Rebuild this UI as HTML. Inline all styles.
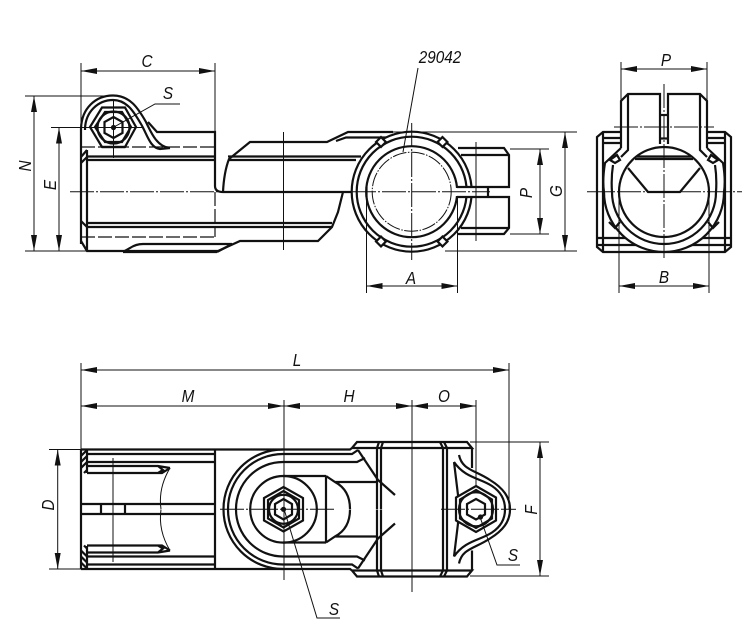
<!DOCTYPE html>
<html><head><meta charset="utf-8"><style>
html,body{margin:0;padding:0;background:#fff}
svg{display:block}
text{font-family:"Liberation Sans",sans-serif;font-style:italic;font-size:18px;fill:#111;text-anchor:middle}
.k{fill:none;stroke:#111;stroke-width:2.2}
.w{fill:#fff;stroke:#111;stroke-width:2.2}
.t{fill:none;stroke:#111;stroke-width:1}
.c{fill:none;stroke:#111;stroke-width:1;stroke-dasharray:24 2 2 2}
.d{fill:none;stroke:#111;stroke-width:1.2;stroke-dasharray:14 3}
.a{fill:#111;stroke:none}
</style></head><body>
<svg width="750" height="624" viewBox="0 0 750 624" xmlns="http://www.w3.org/2000/svg">
<defs>
<path id="ar" class="a" d="M0 0L16 -3L16 3Z"/>
<g id="fh">
<path class="k" d="M81 449.500H350L352 448L357 442H467L472 448H352"/>
<path class="k" d="M87 454H215M87 462H215M87 473H162L170 468M87 466H158L170 468M158 466L163 470L158 473"/>
<path class="t" stroke-width="1.500" d="M170 468Q158 488 161 509"/>
<path class="k" d="M81 456L87 450M81 462L87 456M81 468L87 462M84 473L87 470" stroke-width="1.600"/>
<path class="k" d="M283 449.500A59.500 59.500 0 0 0 223.500 509M283 454A55 55 0 0 0 228 509M283 462A47 47 0 0 0 236 509"/>
<path class="k" d="M283 454H352L358 450M283 462H357L365 458M326 476H283M326 476V509M326 476L335 482H378M335 482Q350 490 350 509"/>
<path class="k" d="M358 450L378 480L395 495"/>
<path class="k" d="M379 442L377 448V509M383 442L381 448V509M440 442L443 448V509M444 442L447 448V509M472 448V468"/>
<path class="k" d="M459 455C462 470 475 470 490 480C503 488 510 497 510 509M454 462L458 495V509M454 462C465 478 480 478 492 486C501 492 505 500 505 509"/>
</g>
</defs>

<!-- ===== TOP-LEFT VIEW ===== -->
<path class="t" d="M81 63V130M215 63V133"/>
<path class="t" d="M81 71H215"/><use href="#ar" x="81" y="71"/><use href="#ar" transform="translate(215 71) scale(-1 1)"/>
<path class="t" d="M25 96H108M51 127.500H100M25 251H86"/>
<path class="t" d="M34 96V251M59 127.500V251"/>
<use href="#ar" transform="translate(34 96) rotate(90)"/><use href="#ar" transform="translate(34 251) rotate(-90)"/>
<use href="#ar" transform="translate(59 127.500) rotate(90)"/><use href="#ar" transform="translate(59 251) rotate(-90)"/>

<path class="k" d="M81 244V130C81 108 96 95.500 113 95.500C130 95.500 138 108 146 122C152 135 158 147 170 148"/>
<path class="k" d="M85 130C85 112 98 100 113 100C127 100 134 112 141 124C147 134 150 148 160 149L170 148"/>
<path class="k" d="M148 122L157 132H215V186Q215 192 223 192H352"/>
<path class="k" d="M81 241L87 251H218L240 241H318L332 227L338 212L343 192"/>
<path class="k" d="M123 252L130 248Q136 244 143 244H232L217 252M123 252H217"/>
<path class="k" d="M87 156.500H215M87 160H215M87 223H332M87 227H332M228 156.500H361M228 160H356"/>
<path class="k" d="M81 163L87 157M81 157L87 150M81 221L87 227"/>
<path class="k" d="M87 150V251"/>
<path class="k" d="M223 192Q224 172 229 159L250 142H327L348 132H393M336 141L346 137.500H392"/>
<path class="d" d="M81 147H215M81 237H215M215 192V237"/>
<polygon class="k" points="90,127 102,107.500 125,107.500 136,127 125,147 102,147"/>
<polygon class="k" points="95,127 105,112 122,112 131,127 122,142 105,142"/>
<circle class="k" cx="113.500" cy="127.500" r="16"/>
<polygon class="k" points="113.500,117 122.500,122 122.500,133 113.500,138 104.500,133 104.500,122"/>
<circle class="a" cx="113.500" cy="127.500" r="2.600"/>
<path class="k" d="M102 147H125" stroke-width="3"/>
<path class="t" d="M113.500 100V158M85 127.500H143"/>
<path class="t" d="M114 127L155 104H180"/>
<path class="c" d="M70 191.700H350"/>
<path class="t" d="M283.500 132V250"/>

<!-- ring -->
<g>
<circle class="w" cx="411.700" cy="191.700" r="60"/>
<circle class="k" cx="411.700" cy="191.700" r="55"/>
<circle class="k" cx="411.700" cy="191.700" r="45.500"/>
<circle class="t" cx="411.700" cy="191.700" r="39.500" stroke-dasharray="14 1.500 1.500 1.500"/>
<rect x="454" y="188" width="22" height="8" fill="#fff"/>
<rect class="w" x="377.500" y="138.500" width="7" height="7" transform="rotate(45 381 142)"/>
<rect class="w" x="439" y="138.500" width="7" height="7" transform="rotate(-45 442.500 142)"/>
<rect class="w" x="377.500" y="238" width="7" height="7" transform="rotate(-45 381 241.500)"/>
<rect class="w" x="439" y="238" width="7" height="7" transform="rotate(45 442.500 241.500)"/>
<path class="k" d="M457 187H509V155L504 148H458M461 155H509M458 234H504L509 228V197H457M461 228H509"/>
<path class="k" d="M488 187V197"/>
<path class="k" d="M366.500 187V197" stroke-width="3"/>
</g>
<path class="c" d="M352 191.700H490M411.700 123V260"/>
<path class="t" d="M476 142V241"/>

<path class="t" d="M418 68L403 152"/>
<path class="t" d="M393 132H577M510 149H549M510 234H549M445 251H577"/>
<path class="t" d="M540 149V234M565 132V251"/>
<use href="#ar" transform="translate(540 149) rotate(90)"/><use href="#ar" transform="translate(540 234) rotate(-90)"/>
<use href="#ar" transform="translate(565 132) rotate(90)"/><use href="#ar" transform="translate(565 251) rotate(-90)"/>
<path class="t" d="M366.500 197V293M457.500 197V293M366.500 286H457.500"/>
<use href="#ar" transform="translate(366.500 286)"/><use href="#ar" transform="translate(457.500 286) scale(-1 1)"/>

<!-- ===== RIGHT VIEW ===== -->
<path class="t" d="M621 62V100M707 62V100M621 69H707"/>
<use href="#ar" x="621" y="69"/><use href="#ar" transform="translate(707 69) scale(-1 1)"/>
<path class="k" d="M621 132H603L597 137V247L603 252H725L731 247V137L725 132H707M621 138H603M621 143H603M603 132V252M707 138H725M707 143H725M725 132V252M597 238H731M597 245H731"/>
<path d="M605 163C603 175 603 185 604 192A60 60 0 0 0 724 192C725 185 725 175 723 163Z" fill="#fff"/>
<path class="k" d="M628 94V150L621 157M700 94V150L707 157"/>
<path class="k" d="M621 148V101L628 94H660V144M707 148V101L700 94H668V144"/>
<path class="k" d="M621 148L605 163C603 175 603 185 604 192A60 60 0 0 0 724 192C725 185 725 175 723 163L707 148"/>
<path class="k" d="M613 165Q611 178 612 192A52 52 0 0 0 716 192Q717 178 715 165"/>
<path class="w" d="M610 160L617 155L620 160L615 163ZM718 160L711 155L708 160L713 163Z"/>
<path class="k" d="M609 222L615 228L620 222M719 222L713 228L708 222"/>
<path class="k" d="M660 115H668"/>
<path class="k" d="M660 138.500H668" stroke-width="3"/>
<circle class="k" cx="664" cy="192" r="45"/>
<path class="k" d="M637 156.500H691M635 159H693"/>
<path class="k" d="M628 168L648 192H680L700 168"/>
<path class="c" d="M587 191.700H742M664 84V260"/>
<path class="c" d="M614 127H714"/>
<path class="t" d="M619 192V293M709 192V293M619 286H709"/>
<use href="#ar" transform="translate(619 286)"/><use href="#ar" transform="translate(709 286) scale(-1 1)"/>

<!-- ===== BOTTOM VIEW ===== -->
<path class="t" d="M81 363V450M509 363V509M284 400V580M412 400V592M476 400V510M81 370H509M81 406H476"/>
<use href="#ar" x="81" y="370"/><use href="#ar" transform="translate(509 370) scale(-1 1)"/>
<use href="#ar" x="81" y="406"/><use href="#ar" transform="translate(284 406) scale(-1 1)"/>
<use href="#ar" x="284" y="406"/><use href="#ar" transform="translate(412 406) scale(-1 1)"/>
<use href="#ar" x="412" y="406"/><use href="#ar" transform="translate(476 406) scale(-1 1)"/>
<path class="t" d="M49 449.500H81M49 569H87M57.700 449.500V569"/>
<use href="#ar" transform="translate(57.700 449.500) rotate(90)"/><use href="#ar" transform="translate(57.700 569) rotate(-90)"/>
<path class="t" d="M470 442H549M470 576H549M540 442V576"/>
<use href="#ar" transform="translate(540 442) rotate(90)"/><use href="#ar" transform="translate(540 576) rotate(-90)"/>

<use href="#fh"/>
<use href="#fh" transform="translate(0 1018.500) scale(1 -1)"/>
<path class="k" d="M81 449.500V569M215 449.500V569M87 450V473M87 546V569M82 504H215M82 514H215M101 504V514M125 504V514"/>
<path class="t" d="M113 458V562"/>
<circle class="k" cx="283.500" cy="509.300" r="33.300"/>
<polygon class="k" points="283.500,487 303,498 303,520.500 283.500,531.500 264,520.500 264,498"/>
<polygon class="k" points="283.500,491 299,500 299,518.500 283.500,527.500 268,518.500 268,500"/>
<circle class="k" cx="283.500" cy="509.300" r="14.500"/>
<polygon class="k" points="283.500,499 292,504 292,514.500 283.500,519.500 275,514.500 275,504"/>
<circle class="a" cx="283.500" cy="509.300" r="2.600"/>
<path class="c" d="M220 509.300H335"/>
<path class="t" d="M284 509L317 618H340"/>
<polygon class="w" points="476,486 496,497.500 496,520.500 476,532 456,520.500 456,497.500"/>
<polygon class="k" points="476,490 492,499.500 492,518.500 476,528 460,518.500 460,499.500"/>
<circle class="k" cx="476" cy="509.300" r="17"/>
<polygon class="k" points="476,499 485,504 485,514.500 476,519.500 467,514.500 467,504"/>
<path class="c" d="M441 509.300H516"/>
<circle class="a" cx="480.500" cy="517" r="2.600"/>
<path class="t" d="M480 517L497 565H520"/>
<path class="c" d="M412 442V590"/>

<!-- ===== LABELS ===== -->
<text transform="translate(147 67) scale(.85 1)">C</text>
<text transform="translate(168 99) scale(.85 1)">S</text>
<text transform="translate(440 63) scale(.85 1)">29042</text>
<text transform="translate(411 284) scale(.85 1)">A</text>
<text transform="translate(666 66) scale(.85 1)">P</text>
<text transform="translate(664 283) scale(.85 1)">B</text>
<text transform="translate(297 366) scale(.85 1)">L</text>
<text transform="translate(188 402) scale(.85 1)">M</text>
<text transform="translate(349 402) scale(.85 1)">H</text>
<text transform="translate(444 402) scale(.85 1)">O</text>
<text transform="translate(513 561) scale(.85 1)">S</text>
<text transform="translate(334 615) scale(.85 1)">S</text>
<text transform="translate(31 166) rotate(-90) scale(.85 1)">N</text>
<text transform="translate(56 185) rotate(-90) scale(.85 1)">E</text>
<text transform="translate(532 193) rotate(-90) scale(.85 1)">P</text>
<text transform="translate(562 191) rotate(-90) scale(.85 1)">G</text>
<text transform="translate(54 505) rotate(-90) scale(.85 1)">D</text>
<text transform="translate(537 510) rotate(-90) scale(.85 1)">F</text>
</svg>
</body></html>
